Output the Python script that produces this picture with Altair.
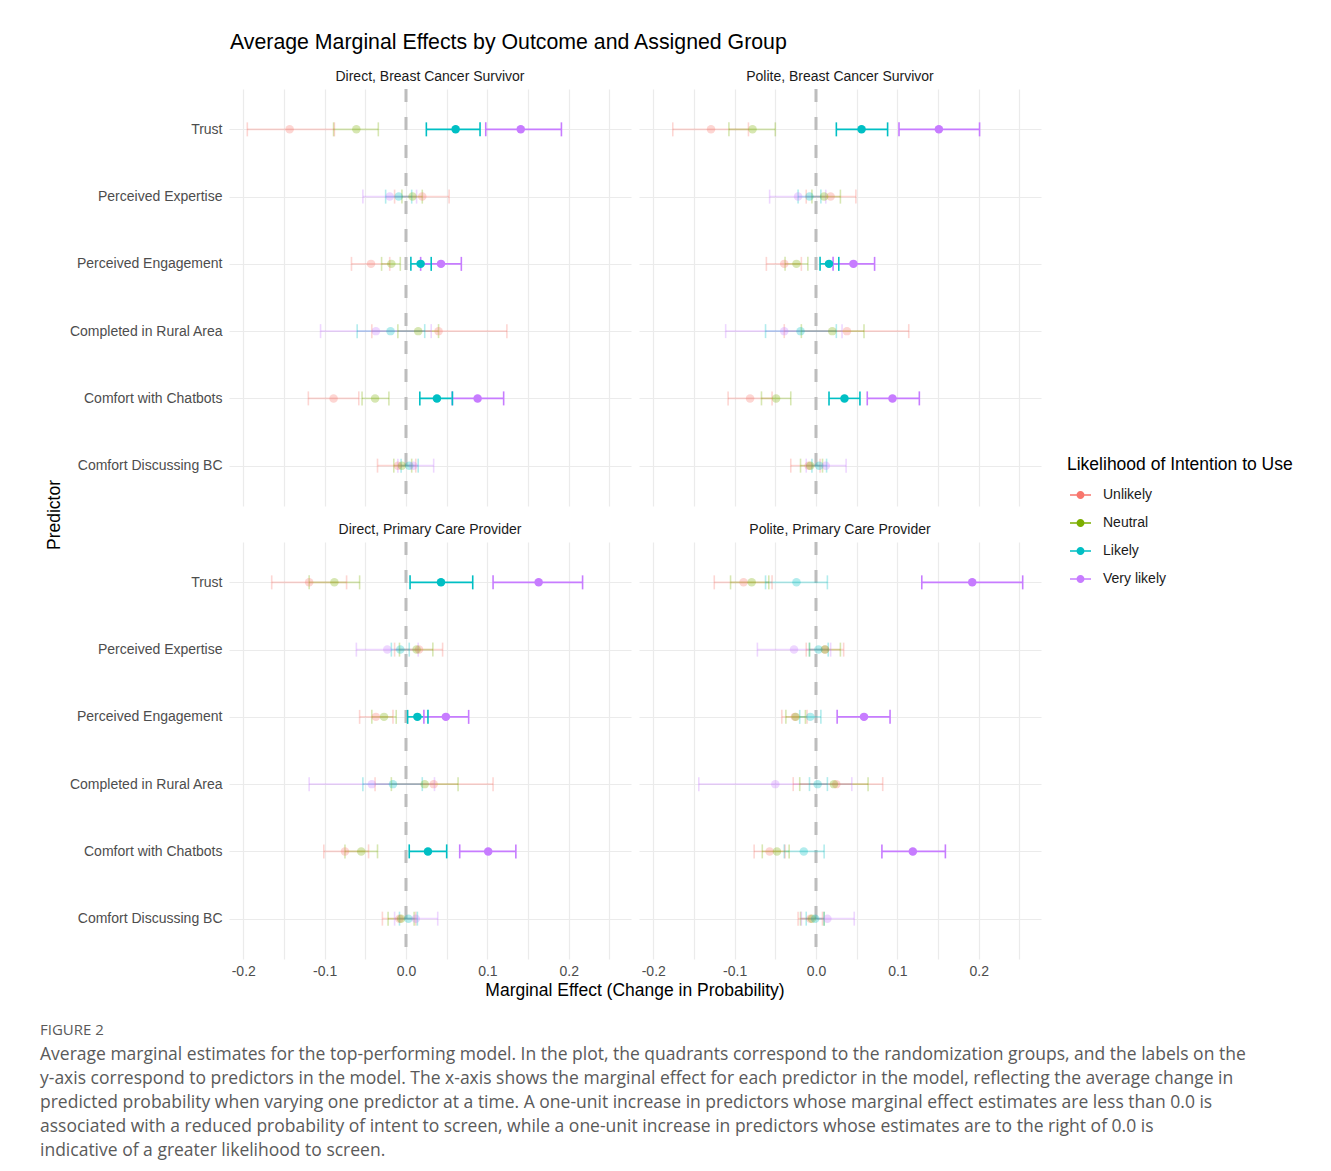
import altair as alt
import pandas as pd

STYLES = ["Direct", "Polite"]
AUDIENCES = ["Breast Cancer Survivor", "Primary Care Provider"]
PANELS = ["Direct, Breast Cancer Survivor", "Polite, Breast Cancer Survivor",
          "Direct, Primary Care Provider", "Polite, Primary Care Provider"]
PREDICTORS = ["Trust", "Perceived Expertise", "Perceived Engagement",
              "Completed in Rural Area", "Comfort with Chatbots", "Comfort Discussing BC"]
GROUPS = ["Unlikely", "Neutral", "Likely", "Very likely"]
COLORS = ["#F8766D", "#7CAE00", "#00BFC4", "#C77CFF"]

# (estimate, lower, upper) for each predictor, in PREDICTORS order
DIRECT_BCS = {
    "Unlikely":    [(-0.143, -0.195, -0.088), (0.020, -0.014, 0.053), (-0.043, -0.067, -0.020),
                    (0.040, -0.042, 0.124), (-0.089, -0.120, -0.058), (-0.010, -0.035, 0.012)],
    "Neutral":     [(-0.061, -0.089, -0.034), (0.008, -0.005, 0.020), (-0.018, -0.030, -0.007),
                    (0.015, -0.010, 0.040), (-0.038, -0.054, -0.021), (-0.005, -0.015, 0.007)],
    "Likely":      [(0.061, 0.025, 0.091), (-0.009, -0.025, 0.007), (0.018, 0.006, 0.031),
                    (-0.019, -0.060, 0.023), (0.038, 0.017, 0.057), (0.004, -0.006, 0.015)],
    "Very likely": [(0.141, 0.098, 0.191), (-0.020, -0.053, 0.013), (0.043, 0.018, 0.068),
                    (-0.037, -0.105, 0.031), (0.088, 0.057, 0.120), (0.009, -0.010, 0.034)],
}
POLITE_BCS = {
    "Unlikely":    [(-0.129, -0.176, -0.083), (0.018, -0.012, 0.049), (-0.039, -0.061, -0.018),
                    (0.038, -0.039, 0.114), (-0.081, -0.108, -0.054), (-0.009, -0.031, 0.005)],
    "Neutral":     [(-0.078, -0.107, -0.050), (0.010, -0.005, 0.030), (-0.024, -0.038, -0.010),
                    (0.020, -0.018, 0.059), (-0.049, -0.067, -0.031), (-0.007, -0.019, 0.008)],
    "Likely":      [(0.056, 0.025, 0.088), (-0.008, -0.022, 0.006), (0.016, 0.005, 0.028),
                    (-0.019, -0.062, 0.025), (0.035, 0.016, 0.054), (0.004, -0.005, 0.013)],
    "Very likely": [(0.151, 0.102, 0.201), (-0.022, -0.057, 0.012), (0.046, 0.021, 0.072),
                    (-0.039, -0.111, 0.032), (0.094, 0.063, 0.127), (0.012, -0.012, 0.037)],
}
DIRECT_PCP = {
    "Unlikely":    [(-0.119, -0.165, -0.073), (0.016, -0.014, 0.045), (-0.037, -0.057, -0.016),
                    (0.034, -0.038, 0.107), (-0.075, -0.101, -0.046), (-0.008, -0.029, 0.012)],
    "Neutral":     [(-0.088, -0.119, -0.057), (0.013, -0.008, 0.033), (-0.027, -0.042, -0.012),
                    (0.023, -0.018, 0.064), (-0.055, -0.075, -0.035), (-0.006, -0.022, 0.010)],
    "Likely":      [(0.043, 0.005, 0.082), (-0.007, -0.018, 0.004), (0.014, 0.002, 0.027),
                    (-0.016, -0.053, 0.020), (0.027, 0.004, 0.050), (0.003, -0.008, 0.014)],
    "Very likely": [(0.163, 0.107, 0.217), (-0.023, -0.061, 0.015), (0.049, 0.022, 0.077),
                    (-0.042, -0.119, 0.035), (0.101, 0.066, 0.135), (0.012, -0.014, 0.039)],
}
POLITE_PCP = {
    "Unlikely":    [(-0.089, -0.125, -0.054), (0.011, -0.012, 0.034), (-0.026, -0.042, -0.011),
                    (0.025, -0.028, 0.082), (-0.057, -0.076, -0.038), (-0.007, -0.022, 0.008)],
    "Neutral":     [(-0.079, -0.105, -0.058), (0.011, -0.008, 0.030), (-0.025, -0.037, -0.013),
                    (0.022, -0.020, 0.064), (-0.048, -0.066, -0.033), (-0.005, -0.019, 0.010)],
    "Likely":      [(-0.024, -0.062, 0.014), (0.003, -0.008, 0.015), (-0.007, -0.020, 0.006),
                    (0.002, -0.008, 0.014), (-0.015, -0.039, 0.010), (-0.001, -0.012, 0.010)],
    "Very likely": [(0.192, 0.130, 0.254), (-0.027, -0.072, 0.018), (0.059, 0.026, 0.091),
                    (-0.050, -0.144, 0.044), (0.119, 0.081, 0.159), (0.014, -0.018, 0.047)],
}
PANEL_DATA = [DIRECT_BCS, POLITE_BCS, DIRECT_PCP, POLITE_PCP]

TITLE = "Average Marginal Effects by Outcome and Assigned Group"
X_TITLE = "Marginal Effect (Change in Probability)"
Y_TITLE = "Predictor"
LEGEND_TITLE = "Likelihood of Intention to Use"
X_GRID = [-0.2, -0.15, -0.1, -0.05, 0.0, 0.05, 0.1, 0.15, 0.2, 0.25]

FIG_LABEL = "FIGURE 2"
CAPTION = [
    "Average marginal estimates for the top-performing model. In the plot, the quadrants correspond to the randomization groups, and the labels on the",
    "y-axis correspond to predictors in the model. The x-axis shows the marginal effect for each predictor in the model, reflecting the average change in",
    "predicted probability when varying one predictor at a time. A one-unit increase in predictors whose marginal effect estimates are less than 0.0 is",
    "associated with a reduced probability of intent to screen, while a one-unit increase in predictors whose estimates are to the right of 0.0 is",
    "indicative of a greater likelihood to screen.",
]

rows = []
for panel, pdata in zip(PANELS, PANEL_DATA):
    style, audience = panel.split(", ")
    for g in GROUPS:
        for pred, (est, lo, hi) in zip(PREDICTORS, pdata[g]):
            rows.append({"panel": panel, "style": style, "audience": audience,
                         "group": g, "predictor": pred,
                         "est": est, "lo": lo, "hi": hi,
                         "hl": "yes" if lo > 0 else "no"})
df = pd.DataFrame(rows)

FONT = "Liberation Sans"
PW, PH = 402, 417

x_scale = alt.Scale(domain=[-0.2175, 0.2765], nice=False, zero=False)
x_axis = alt.Axis(values=X_GRID, title=None, ticks=False, domain=False,
                  grid=True, gridColor="#EBEBEB", gridWidth=1.2,
                  labelExpr="abs(round(datum.value*100)) % 10 == 0 ? (datum.value < -0.001 ? '-' + format(-datum.value, '.1f') : format(abs(datum.value), '.1f')) : ''",
                  labelColor="#4D4D4D", labelFontSize=14, labelPadding=3)
y_enc = alt.Y("predictor:N", sort=PREDICTORS,
              scale=alt.Scale(type="point", padding=0.6),
              axis=alt.Axis(title=None, ticks=False, domain=False, grid=True,
                            gridColor="#EBEBEB", gridWidth=1.2, labelLimit=300,
                            labelColor="#4D4D4D", labelFontSize=14, labelPadding=7))
color_scale = alt.Scale(domain=GROUPS, range=COLORS)
op_enc = alt.Opacity("hl:N", scale=alt.Scale(domain=["yes", "no"], range=[1.0, 0.3]), legend=None)

LEGEND_SYMBOL = ("M-1,-0.07H1V0.07H-1Z "
                 "M0.38,0A0.38,0.38 0 1,1 -0.38,0A0.38,0.38 0 1,1 0.38,0Z")
legend = alt.Legend(title=LEGEND_TITLE, orient="none", legendX=838, legendY=367,
                    symbolType=LEGEND_SYMBOL, symbolSize=441, symbolOffset=3,
                    symbolOpacity=1, symbolStrokeWidth=0,
                    titleFontSize=17.5, titleFontWeight="normal", titleLimit=400,
                    titleColor="#000000", titlePadding=11,
                    labelFontSize=14, labelColor="#1A1A1A",
                    labelOffset=12, rowPadding=10)
color_enc = alt.Color("group:N", scale=color_scale, legend=legend)

cell_keys = ["panel", "style", "audience"]

zero = alt.Chart().transform_aggregate(n="count()", groupby=cell_keys).mark_rule(
    color="#BDBDBD", strokeWidth=3, strokeDash=[13, 15]
).encode(x=alt.datum(0, scale=x_scale))

panel_label = alt.Chart().transform_aggregate(n="count()", groupby=cell_keys).mark_text(
    fontSize=14, color="#1A1A1A", font=FONT, baseline="middle", align="center"
).encode(x=alt.value(PW / 2), y=alt.value(-12.5), text="panel:N")

# legend source (first colour layer, invisible marks)
legend_src = alt.Chart().mark_circle(size=0, opacity=0).encode(
    x=alt.X("est:Q", scale=x_scale, axis=x_axis), y=y_enc, color=color_enc)

bars = alt.Chart().mark_rule(strokeWidth=1.6).encode(
    x=alt.X("lo:Q", scale=x_scale), x2="hi:Q", y=y_enc,
    color=color_enc, opacity=op_enc)
cap_lo = alt.Chart().mark_tick(thickness=1.6, size=14).encode(
    x=alt.X("lo:Q", scale=x_scale), y=y_enc, color=color_enc, opacity=op_enc)
cap_hi = alt.Chart().mark_tick(thickness=1.6, size=14).encode(
    x=alt.X("hi:Q", scale=x_scale), y=y_enc, color=color_enc, opacity=op_enc)
points = alt.Chart().mark_circle(size=72).encode(
    x=alt.X("est:Q", scale=x_scale), y=y_enc, color=color_enc, opacity=op_enc)

panels = alt.layer(legend_src, zero, bars, cap_lo, cap_hi, points, panel_label,
                   data=df).properties(width=PW, height=PH).facet(
    row=alt.Row("audience:N", sort=AUDIENCES, title=Y_TITLE,
                header=alt.Header(labels=False, titleOrient="left", titleFontSize=17.5,
                                  titleFontWeight="normal", titleColor="#000000",
                                  titleFont=FONT, titlePadding=-5)),
    column=alt.Column("style:N", sort=STYLES, title=X_TITLE,
                      header=alt.Header(labels=False, titleOrient="bottom", titleFontSize=17.5,
                                        titleFontWeight="normal", titleColor="#000000",
                                        titleFont=FONT, titlePadding=-6)),
    spacing={"row": 14, "column": 8}
)

cap_df = pd.DataFrame({"i": list(range(1, len(CAPTION) + 1)), "line": CAPTION})
lab_df = pd.DataFrame({"i": [0], "line": [FIG_LABEL]})
cap_y = alt.Y("i:O", axis=None, scale=alt.Scale(domain=list(range(0, len(CAPTION) + 1)),
                                                paddingInner=0, paddingOuter=0))
cap_text = alt.Chart(cap_df).mark_text(align="left", baseline="middle", font="Open Sans",
                                       fontSize=17.5, color="#5A5A5A").encode(
    x=alt.value(-189), y=cap_y, text="line:N")
lab_text = alt.Chart(lab_df).mark_text(align="left", baseline="middle", font="Open Sans",
                                       fontSize=15, color="#5A5A5A", dy=-1).encode(
    x=alt.value(-189), y=cap_y, text="line:N")
caption = alt.layer(lab_text, cap_text).properties(width=812, height=144)

chart = alt.vconcat(panels, caption, spacing=19).properties(
    title=alt.TitleParams(TITLE, anchor="start", fontSize=21.3, fontWeight="normal",
                          font=FONT, color="#000000", dx=190, offset=16),
    padding={"left": 32, "top": 24, "right": 5, "bottom": 5}
).configure(font=FONT).configure_view(strokeWidth=0)

chart.save("out.html", embed_options={"renderer": "svg", "actions": False})
